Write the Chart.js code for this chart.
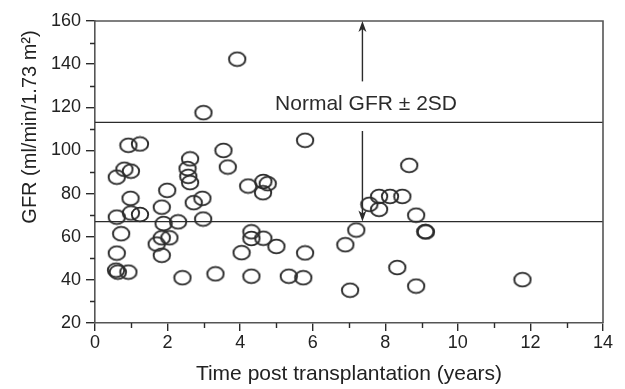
<!DOCTYPE html>
<html>
<head>
  <title>GFR after transplantation</title>
  <script src="https://cdn.jsdelivr.net/npm/chart.js"></script>
  <style>
    body { margin: 0; background: #fff; }
    #wrap { width: 625px; height: 389px; }
  </style>
</head>
<body>
  <div id="wrap"><canvas id="grafico" width="625" height="389"></canvas></div>

  <script>
    const timeYears = [0.60, 0.81, 0.99, 0.92, 1.24, 0.98, 0.60, 0.99, 1.24, 0.72, 0.60, 0.58, 0.63, 0.92,
      1.84, 1.99, 1.89, 2.29, 1.70, 1.84, 2.05, 1.84, 2.41, 2.62, 2.55, 2.57, 2.62, 2.72, 2.96, 2.98,
      2.99, 3.92, 3.54, 3.66, 4.22, 4.64, 4.76, 4.63, 4.31, 4.31, 4.64, 5.00, 4.04, 5.79, 5.79, 3.32,
      4.31, 5.34, 5.74, 6.90, 7.03, 7.20, 7.56, 7.83, 7.83, 8.13, 8.47, 8.66, 8.85, 9.12, 9.10, 8.33,
      8.85, 11.78];
    const gfrValues = [87.6, 91.3, 90.4, 102.4, 103.0, 77.8, 69.1, 71.0, 70.3, 61.4, 52.4, 44.5, 43.6, 43.6,
      73.7, 81.5, 66.1, 66.9, 56.6, 59.5, 59.5, 51.4, 41.0, 96.1, 91.6, 88.0, 85.1, 75.8, 77.8, 68.2,
      117.5, 142.3, 100.0, 92.3, 83.5, 85.6, 84.6, 80.4, 62.3, 59.2, 59.3, 55.5, 52.6, 52.5, 104.7, 42.8,
      41.7, 41.7, 41.0, 56.3, 35.2, 63.1, 75.0, 72.7, 78.7, 78.7, 78.7, 93.1, 70.0, 62.2, 62.4, 45.7,
      37.1, 40.1];

    const normalUpper = 113;
    const normalLower = 67;
    const arrowX = 7.37;
    const arrowUp = [132, 160];
    const arrowDown = [109, 67];
    const labelText = 'Normal GFR \u00b1 2SD';
    const labelPos = { x: 7.47, y: 121.4 };
    const yTitle = 'GFR (ml/min/1.73 m\u00b2)';

    const xTicks = [0, 2, 4, 6, 8, 10, 12, 14];
    const yTicks = [20, 40, 60, 80, 100, 120, 140, 160];

    const FONT = '"Liberation Sans", Arial, sans-serif';
    const INK = '#2b2b2b';

    // open ellipse marker
    function ellipseMarker() {
      const c = document.createElement('canvas');
      c.width = 20; c.height = 17;
      const g = c.getContext('2d');
      g.strokeStyle = INK;
      g.lineWidth = 1.9;
      g.beginPath();
      g.ellipse(10, 8.5, 8.2, 6.9, 0, 0, Math.PI * 2);
      g.stroke();
      return c;
    }

    const puntos = timeYears.map((t, i) => ({ x: t, y: gfrValues[i] }));

    function segment(x1, y1, x2, y2) {
      return {
        data: [{ x: x1, y: y1 }, { x: x2, y: y2 }],
        showLine: true,
        borderColor: INK,
        borderWidth: 1.4,
        pointRadius: 0,
        order: 2
      };
    }

    // minor ticks, frame, arrowheads, the label and the y title
    const extras = {
      id: 'extras',
      afterDraw(chart) {
        const ctx = chart.ctx;
        const xs = chart.scales.x, ys = chart.scales.y;
        const a = chart.chartArea;
        ctx.save();
        ctx.strokeStyle = INK;
        ctx.lineWidth = 1.4;
        ctx.beginPath();
        for (let v = 1; v < 14; v += 2) {
          const px = Math.round(xs.getPixelForValue(v)) + 0.5;
          ctx.moveTo(px, a.bottom); ctx.lineTo(px, a.bottom + 5);
        }
        for (let v = 30; v < 160; v += 20) {
          const py = Math.round(ys.getPixelForValue(v)) + 0.5;
          ctx.moveTo(a.left, py); ctx.lineTo(a.left - 5, py);
        }
        ctx.stroke();

        ctx.strokeStyle = '#555';
        ctx.lineWidth = 1.6;
        ctx.beginPath();
        ctx.moveTo(a.left, a.top); ctx.lineTo(a.right, a.top); ctx.lineTo(a.right, a.bottom);
        ctx.stroke();

        ctx.fillStyle = INK;
        const ax = xs.getPixelForValue(arrowX);
        const tipUp = ys.getPixelForValue(arrowUp[1]);
        ctx.beginPath();
        ctx.moveTo(ax, tipUp); ctx.lineTo(ax - 4, tipUp + 11); ctx.lineTo(ax, tipUp + 8); ctx.lineTo(ax + 4, tipUp + 11);
        ctx.closePath(); ctx.fill();
        const tipDown = ys.getPixelForValue(arrowDown[1]);
        ctx.beginPath();
        ctx.moveTo(ax, tipDown); ctx.lineTo(ax - 4, tipDown - 11); ctx.lineTo(ax, tipDown - 8); ctx.lineTo(ax + 4, tipDown - 11);
        ctx.closePath(); ctx.fill();

        ctx.font = '21px ' + FONT;
        ctx.textAlign = 'center';
        ctx.textBaseline = 'middle';
        ctx.fillText(labelText, xs.getPixelForValue(labelPos.x), ys.getPixelForValue(labelPos.y));

        ctx.fillStyle = '#222';
        ctx.font = '20px ' + FONT;
        ctx.textBaseline = 'alphabetic';
        ctx.translate(35.5, 127);
        ctx.rotate(-Math.PI / 2);
        ctx.fillText(yTitle, 0, 0);
        ctx.restore();
      }
    };

    new Chart(document.getElementById('grafico'), {
      type: 'scatter',
      data: {
        datasets: [
          {
            data: puntos,
            pointStyle: ellipseMarker(),
            pointRadius: 8,
            order: 1
          },
          segment(0, normalUpper, 14, normalUpper),
          segment(0, normalLower, 14, normalLower),
          segment(arrowX, arrowUp[0], arrowX, arrowUp[1] - 2),
          segment(arrowX, arrowDown[0], arrowX, arrowDown[1] + 2)
        ]
      },
      plugins: [extras],
      options: {
        responsive: false,
        animation: false,
        layout: { padding: { top: 21, right: 22, left: 0, bottom: 0 } },
        plugins: { legend: { display: false }, tooltip: { enabled: false } },
        scales: {
          x: {
            type: 'linear', min: 0, max: 14,
            afterBuildTicks: s => { s.ticks = xTicks.map(v => ({ value: v })); },
            afterFit: s => { s.height = 66; },
            grid: { display: true, drawOnChartArea: false, tickLength: 8, color: INK, lineWidth: 1.4 },
            border: { color: '#555', width: 1.6 },
            ticks: { color: '#222', font: { family: FONT, size: 18 }, padding: 1, maxRotation: 0 },
            title: { display: true, text: 'Time post transplantation (years)', color: '#222',
              font: { family: FONT, size: 21 }, padding: { top: 0, bottom: 2 } }
          },
          y: {
            type: 'linear', min: 20, max: 160,
            afterBuildTicks: s => { s.ticks = yTicks.map(v => ({ value: v })); },
            afterFit: s => { s.width = 95; },
            grid: { display: true, drawOnChartArea: false, tickLength: 9, color: INK, lineWidth: 1.4 },
            border: { color: '#555', width: 1.6 },
            ticks: { color: '#222', font: { family: FONT, size: 18 }, padding: 5 },
            title: { display: false }
          }
        }
      }
    });
  </script>
</body>
</html>
